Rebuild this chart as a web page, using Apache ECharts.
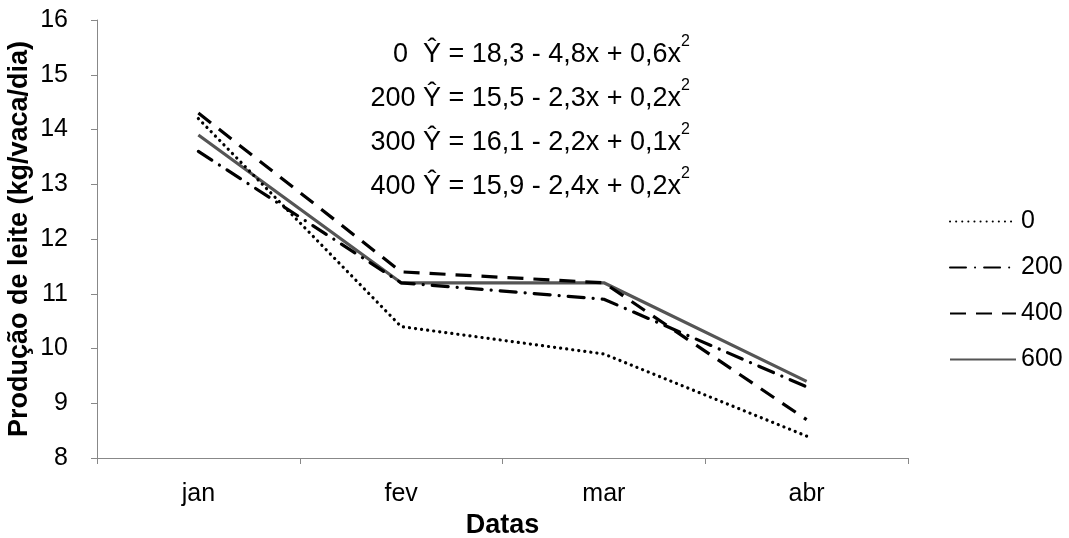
<!DOCTYPE html>
<html>
<head>
<meta charset="utf-8">
<script src="https://cdn.jsdelivr.net/npm/echarts@6/dist/echarts.min.js"></script>
<style>
  html, body { margin: 0; padding: 0; background: #fff; }
  #chart { width: 1069px; height: 538px; }
</style>
</head>
<body>
<div id="chart"></div>
<script>
// Monthly milk yield per treatment level
const months = ['jan', 'fev', 'mar', 'abr'];
const level0 = [14.2, 10.4, 9.9, 8.4];
const level200 = [13.6, 11.2, 10.9, 9.3];
const level400 = [14.3, 11.4, 11.2, 8.7];
const level600 = [13.9, 11.2, 11.2, 9.4];
const seriesNames = ['0', '200', '400', '600'];
const equations = [
  ['0  Ŷ = 18,3 - 4,8x + 0,6x', '2'],
  ['200 Ŷ = 15,5 - 2,3x + 0,2x', '2'],
  ['300 Ŷ = 16,1 - 2,2x + 0,1x', '2'],
  ['400 Ŷ = 15,9 - 2,4x + 0,2x', '2']
];

const FONT = 'Liberation Sans, Arial, sans-serif';
const FS = 25;      // tick and legend labels
const FS_BIG = 27;  // axis names and equations

const chart = echarts.init(document.getElementById('chart'));

const lineStyles = [
  { color: '#000', width: 3.2, type: [0.1, 6], cap: 'round' },
  { color: '#000', width: 3.2, type: [16, 9, 0.1, 9], cap: 'round' },
  { color: '#000', width: 3.2, type: [16, 10], cap: 'butt' },
  { color: '#555', width: 3.2, type: 'solid' }
];
const data = [level0, level200, level400, level600];

const eqGraphics = equations.map((e, i) => ({
  type: 'text',
  right: 1069 - 690,
  top: 34 + i * 44,
  style: {
    text: '{m|' + e[0] + '}{s|' + e[1] + '}',
    rich: {
      m: { fontSize: FS_BIG, fontFamily: FONT, fill: '#000', lineHeight: 34, verticalAlign: 'bottom' },
      s: { fontSize: 16, fontFamily: FONT, fill: '#000', lineHeight: 34, verticalAlign: 'top' }
    }
  }
}));

chart.setOption({
  animation: false,
  grid: { left: 97, right: 161, top: 20, bottom: 80, containLabel: false, outerBoundsMode: 'none' },
  xAxis: {
    type: 'category',
    data: months,
    boundaryGap: true,
    name: 'Datas',
    nameLocation: 'middle',
    nameGap: 54,
    nameMoveOverlap: false,
    nameTextStyle: { fontSize: FS_BIG, fontWeight: 'bold', fontFamily: FONT, color: '#000' },
    axisLine: { lineStyle: { color: '#888', width: 1 } },
    axisTick: { show: true, length: 6, lineStyle: { color: '#888' } },
    axisLabel: { fontSize: FS, fontFamily: FONT, color: '#000', margin: 24 },
    splitLine: { show: false }
  },
  yAxis: {
    type: 'value',
    min: 8, max: 16, interval: 1,
    name: 'Produção de leite (kg/vaca/dia)',
    nameLocation: 'middle',
    nameGap: 64,
    nameMoveOverlap: false,
    nameTextStyle: { fontSize: FS_BIG, fontWeight: 'bold', fontFamily: FONT, color: '#000' },
    axisLine: { show: true, lineStyle: { color: '#888', width: 1 } },
    axisTick: { show: true, length: 6, lineStyle: { color: '#888' } },
    axisLabel: { fontSize: FS, fontFamily: FONT, color: '#000', margin: 29 },
    splitLine: { show: false }
  },
  legend: {
    orient: 'vertical',
    left: 944,
    top: 204,
    itemWidth: 66,
    itemHeight: 25,
    itemGap: 21,
    data: seriesNames,
    itemStyle: { opacity: 0 },
    textStyle: { fontSize: FS, fontFamily: FONT, color: '#000' }
  },
  graphic: eqGraphics,
  series: seriesNames.map((n, i) => ({
    name: n,
    type: 'line',
    data: data[i],
    symbol: 'none',
    lineStyle: lineStyles[i],
    itemStyle: { color: lineStyles[i].color },
    z: i === 3 ? 1 : 2
  }))
});
</script>
</body>
</html>
